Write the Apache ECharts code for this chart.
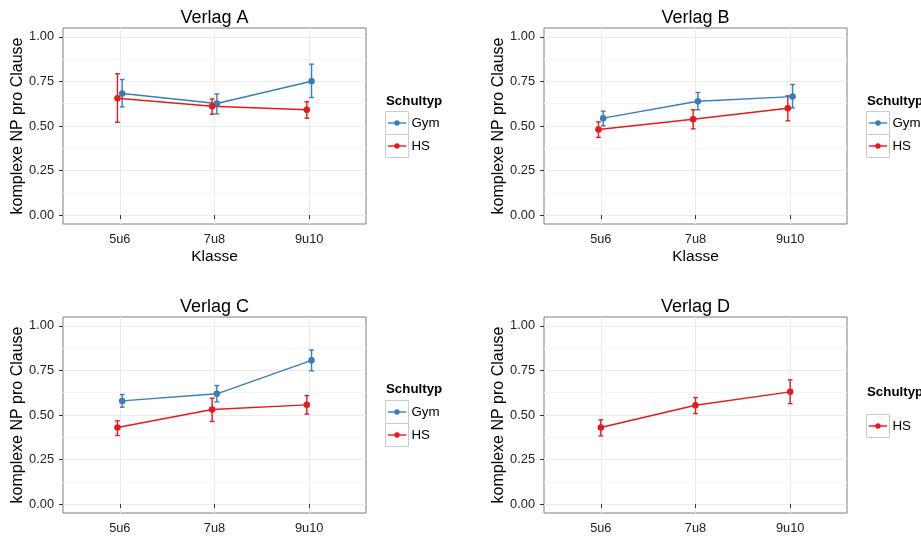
<!DOCTYPE html>
<html>
<head>
<meta charset="utf-8">
<script src="https://cdn.jsdelivr.net/npm/echarts@6/dist/echarts.min.js"></script>
<style>html,body{margin:0;padding:0;background:#fff}#c{width:921px;height:536px}</style>
</head>
<body>
<div id="c"></div>
<script>
// ---------- data ----------
const klassen = ['5u6', '7u8', '9u10'];
const yTicks = [0, 0.25, 0.5, 0.75, 1.0];
const yMinorTicks = [0.125, 0.375, 0.625, 0.875];
const verlage = ['Verlag A', 'Verlag B', 'Verlag C', 'Verlag D'];
const legendTitle = 'Schultyp';

const A_gym_mean = [0.682, 0.626, 0.751];
const A_gym_lo   = [0.607, 0.568, 0.660];
const A_gym_hi   = [0.761, 0.680, 0.847];
const A_hs_mean  = [0.656, 0.611, 0.591];
const A_hs_lo    = [0.521, 0.566, 0.544];
const A_hs_hi    = [0.793, 0.652, 0.636];

const B_gym_mean = [0.544, 0.639, 0.665];
const B_gym_lo   = [0.501, 0.591, 0.602];
const B_gym_hi   = [0.583, 0.688, 0.733];
const B_hs_mean  = [0.480, 0.538, 0.600];
const B_hs_lo    = [0.436, 0.484, 0.529];
const B_hs_hi    = [0.523, 0.591, 0.669];

const C_gym_mean = [0.579, 0.619, 0.807];
const C_gym_lo   = [0.544, 0.574, 0.748];
const C_gym_hi   = [0.615, 0.665, 0.865];
const C_hs_mean  = [0.430, 0.531, 0.557];
const C_hs_lo    = [0.385, 0.464, 0.505];
const C_hs_hi    = [0.467, 0.594, 0.609];

const D_hs_mean  = [0.430, 0.555, 0.630];
const D_hs_lo    = [0.383, 0.508, 0.564];
const D_hs_hi    = [0.473, 0.598, 0.697];

// ---------- styling / layout ----------
const FONT = '"Liberation Sans", Arial, Helvetica, sans-serif';
const COLORS = { Gym: '#377EB8', HS: '#E41A1C' };
const DODGE = 0.025;
const CAP = 0.025;

const panels = [
  { title: verlage[0], left: 63, top: 28, xName: 'Klasse',
    groups: [ { name: 'Gym', mean: A_gym_mean, lo: A_gym_lo, hi: A_gym_hi, dx: DODGE },
              { name: 'HS',  mean: A_hs_mean,  lo: A_hs_lo,  hi: A_hs_hi,  dx: -DODGE } ],
    legendTitleY: 101.7, legendKeyTop: 111.5 },
  { title: verlage[1], left: 544, top: 28, xName: 'Klasse',
    groups: [ { name: 'Gym', mean: B_gym_mean, lo: B_gym_lo, hi: B_gym_hi, dx: DODGE },
              { name: 'HS',  mean: B_hs_mean,  lo: B_hs_lo,  hi: B_hs_hi,  dx: -DODGE } ],
    legendTitleY: 101.7, legendKeyTop: 111.5 },
  { title: verlage[2], left: 63, top: 317, xName: '',
    groups: [ { name: 'Gym', mean: C_gym_mean, lo: C_gym_lo, hi: C_gym_hi, dx: DODGE },
              { name: 'HS',  mean: C_hs_mean,  lo: C_hs_lo,  hi: C_hs_hi,  dx: -DODGE } ],
    legendTitleY: 389.8, legendKeyTop: 400.5 },
  { title: verlage[3], left: 544, top: 317, xName: '',
    groups: [ { name: 'HS',  mean: D_hs_mean,  lo: D_hs_lo,  hi: D_hs_hi,  dx: 0 } ],
    legendTitleY: 392.3, legendKeyTop: 414.5 }
];
const PW = 303, PH = 196;

const grid = [], xAxis = [], yAxis = [], series = [], graphic = [];

panels.forEach((p, i) => {
  grid.push({ left: p.left, top: p.top, width: PW, height: PH, show: true,
              backgroundColor: '#fff', borderColor: '#7f7f7f', borderWidth: 1 });
  xAxis.push({
    gridIndex: i, type: 'value', min: 0.4, max: 3.6,
    axisLine: { show: false },
    axisTick: { show: true, customValues: [1, 2, 3], length: 4, lineStyle: { color: '#333', width: 1 } },
    axisLabel: { customValues: [1, 2, 3], margin: 9, fontSize: 12.8, color: '#222', fontFamily: FONT,
                 formatter: v => klassen[Math.round(v) - 1] || '' },
    splitLine: { show: true, lineStyle: { color: '#ebebeb', width: 1 } },
    name: p.xName, nameLocation: 'middle', nameGap: 25,
    nameTextStyle: { fontSize: 15.5, color: '#000', fontFamily: FONT }
  });
  yAxis.push({
    gridIndex: i, type: 'value', min: -0.05, max: 1.05,
    axisLine: { show: false },
    axisTick: { show: true, customValues: yTicks, length: 4, lineStyle: { color: '#333', width: 1 } },
    axisLabel: { customValues: yTicks, margin: 9, fontSize: 12.8, color: '#222', fontFamily: FONT,
                 formatter: v => v.toFixed(2) },
    splitLine: { show: true, lineStyle: { color: '#ebebeb', width: 1 } },
    name: 'komplexe NP pro Clause', nameLocation: 'middle', nameGap: 35.5, nameRotate: 90,
    nameTextStyle: { fontSize: 16, color: '#000', fontFamily: FONT }
  });
});
// minor y grid lines
panels.forEach((p, i) => {
  yAxis.push({
    gridIndex: i, type: 'value', min: -0.05, max: 1.05, position: 'left',
    axisLine: { show: false }, axisLabel: { show: false },
    axisTick: { show: false, customValues: yMinorTicks },
    splitLine: { show: true, lineStyle: { color: '#f6f6f6', width: 1 } }
  });
});

panels.forEach((p, i) => {
  p.groups.forEach(g => {
    const color = COLORS[g.name];
    series.push({
      type: 'custom', name: g.name, xAxisIndex: i, yAxisIndex: i, z: 2,
      data: klassen.map((k, j) => [j + 1 + g.dx, g.lo[j], g.hi[j]]),
      encode: { x: 0, y: [1, 2] },
      renderItem: (params, api) => {
        const x = api.value(0), lo = api.value(1), hi = api.value(2);
        const t = api.coord([x, hi]), b = api.coord([x, lo]);
        const l = api.coord([x - CAP, hi])[0], r = api.coord([x + CAP, hi])[0];
        const st = { stroke: color, lineWidth: 1.4 };
        return { type: 'group', children: [
          { type: 'line', shape: { x1: t[0], y1: t[1], x2: b[0], y2: b[1] }, style: st },
          { type: 'line', shape: { x1: l, y1: t[1], x2: r, y2: t[1] }, style: st },
          { type: 'line', shape: { x1: l, y1: b[1], x2: r, y2: b[1] }, style: st }
        ]};
      }
    });
    series.push({
      type: 'line', name: g.name, xAxisIndex: i, yAxisIndex: i, z: 3,
      data: klassen.map((k, j) => [j + 1 + g.dx, g.mean[j]]),
      symbol: 'circle', symbolSize: 6.5, showSymbol: true,
      lineStyle: { color: color, width: 1.4 }, itemStyle: { color: color },
      emphasis: { disabled: true }, animation: false
    });
  });

  // panel title
  graphic.push({ type: 'text', x: p.left + PW / 2, y: p.top - 10, z: 10,
    style: { text: p.title, font: '18px ' + FONT, fill: '#000', textAlign: 'center', textVerticalAlign: 'middle' } });

  // legend (ggplot-style)
  const lx = p.left + PW + 19.5;
  graphic.push({ type: 'text', x: lx + 0.5, y: p.legendTitleY, z: 10,
    style: { text: legendTitle, font: 'bold 13.3px ' + FONT, fill: '#000', textVerticalAlign: 'middle' } });
  const KS = 23;
  p.groups.forEach((g, k) => {
    const ky = p.legendKeyTop + k * KS;
    const color = COLORS[g.name];
    graphic.push({ type: 'rect', z: 10, shape: { x: lx, y: ky, width: KS, height: KS },
      style: { fill: '#fff', stroke: '#cccccc', lineWidth: 1 } });
    graphic.push({ type: 'line', z: 11, shape: { x1: lx + 2.3, y1: ky + KS / 2, x2: lx + KS - 2.3, y2: ky + KS / 2 },
      style: { stroke: color, lineWidth: 1.4 } });
    graphic.push({ type: 'circle', z: 12, shape: { cx: lx + KS / 2, cy: ky + KS / 2, r: 2.7 },
      style: { fill: color } });
    graphic.push({ type: 'text', z: 12, x: lx + KS + 3, y: ky + KS / 2,
      style: { text: g.name, font: '13.3px ' + FONT, fill: '#000', textVerticalAlign: 'middle' } });
  });
});

const chart = echarts.init(document.getElementById('c'), null, { renderer: 'canvas' });
chart.setOption({
  animation: false,
  backgroundColor: '#fff',
  grid, xAxis, yAxis, series, graphic
});
</script>
</body>
</html>
